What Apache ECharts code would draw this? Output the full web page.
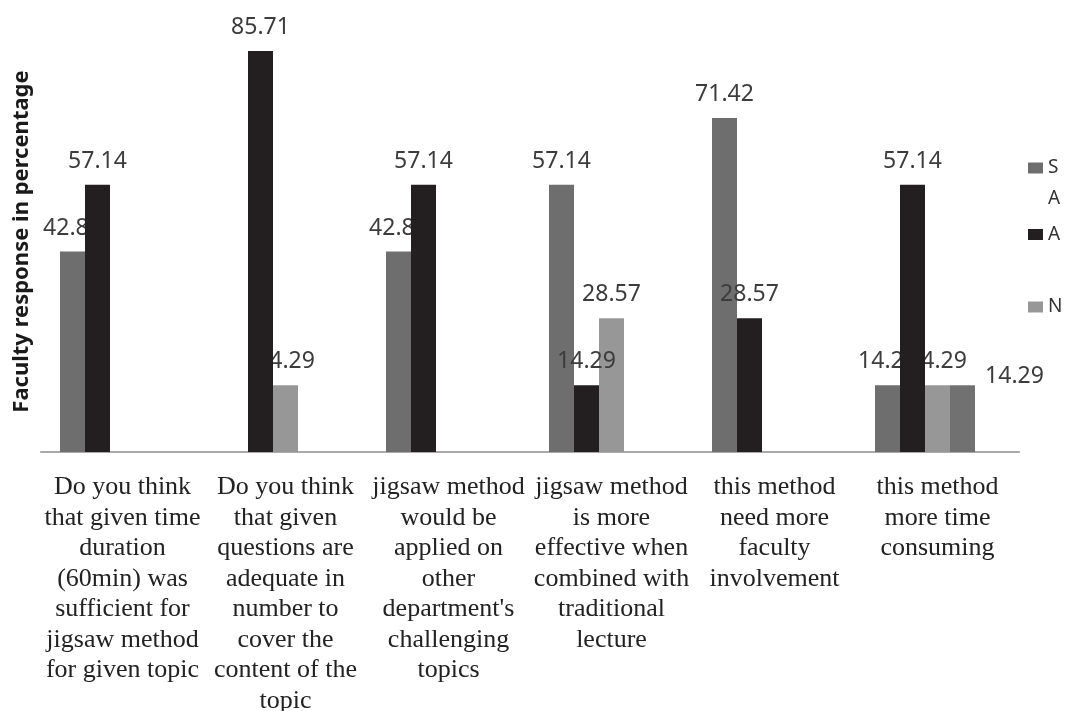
<!DOCTYPE html>
<html>
<head>
<meta charset="utf-8">
<title>Faculty response</title>
<script src="https://cdn.jsdelivr.net/npm/echarts@6/dist/echarts.min.js"></script>
<style>
  html, body { margin: 0; padding: 0; background: #ffffff; }
  #chart { width: 1066px; height: 711px; }
</style>
</head>
<body>
<div id="chart"></div>
<script>
// Survey questions (line breaks as printed under each group)
const categories = [
  "Do you think\nthat given time\nduration\n(60min) was\nsufficient for\njigsaw method\nfor given topic",
  "Do you think\nthat given\nquestions are\nadequate in\nnumber to\ncover the\ncontent of the\ntopic",
  "jigsaw method\nwould be\napplied on\nother\ndepartment's\nchallenging\ntopics",
  "jigsaw method\nis more\neffective when\ncombined with\ntraditional\nlecture",
  "this method\nneed more\nfaculty\ninvolvement",
  "this method\nmore time\nconsuming"
];

// Percentage of faculty per response option
const stronglyAgree    = [42.86, null, 42.86, 57.14, 71.42, 14.29];
const agree            = [57.14, 85.71, 57.14, 14.29, 28.57, 57.14];
const neutral          = [null, 14.29, null, 28.57, null, 14.29];
const disagree         = [null, null, null, null, null, 14.29];
const stronglyDisagree = [null, null, null, null, null, null];

const labelFont = { fontFamily: "Noto Sans", fontSize: 23, color: "#3c3c3c" };
const legendText = { fontFamily: "Noto Sans", fontSize: 19, color: "#333333" };

function barSeries(name, data, color, z, extraLabel) {
  return {
    name: name,
    type: "bar",
    data: data,
    z: z,
    barWidth: 25,
    barGap: "0%",
    itemStyle: { color: color },
    label: Object.assign({
      show: true,
      position: "top",
      distance: 12
    }, labelFont, extraLabel || {})
  };
}

function legendItem(name, top, text, lineHeight) {
  return {
    data: [name], orient: "vertical", left: 1028, top: top, padding: 0,
    itemWidth: 15, itemHeight: 11, icon: "rect",
    formatter: function () { return text; },
    textStyle: Object.assign({ lineHeight: lineHeight }, legendText)
  };
}

const chart = echarts.init(document.getElementById("chart"), null, { renderer: "canvas" });

chart.setOption({
  backgroundColor: "#ffffff",
  animation: false,
  grid: { left: 41, right: 47, top: 31, bottom: 259, outerBoundsMode: "none", containLabel: false },
  legend: [
    // the first entry wraps onto two lines, with its swatch beside the first one
    legendItem("S A", 121.5, "\nS\nA", 31),
    legendItem("A", 224.5, "A", 20),
    legendItem("N", 297, "N", 20)
  ],
  xAxis: {
    type: "category",
    data: categories,
    axisLine: { lineStyle: { color: "#a9a9a9", width: 2 } },
    axisTick: { show: false },
    axisLabel: {
      interval: 0,
      margin: 20,
      fontFamily: "Liberation Serif",
      fontSize: 26,
      lineHeight: 30.5,
      color: "#222222"
    }
  },
  yAxis: {
    type: "value",
    min: 0,
    max: 90,
    name: "Faculty response in percentage",
    nameLocation: "middle",
    nameGap: 8,
    nameTextStyle: { fontFamily: "Noto Sans", fontSize: 22, fontWeight: "bold", color: "#1a1a1a" },
    axisLine: { show: false },
    axisTick: { show: false },
    axisLabel: { show: false },
    splitLine: { show: false }
  },
  series: [
    barSeries("S A", stronglyAgree, "#6e6e6e", 2),
    barSeries("A", agree, "#231f20", 3),
    barSeries("N", neutral, "#979797", 2),
    barSeries("D", disagree, "#717171", 2, { offset: [52, 15] }),
    barSeries("SD", stronglyDisagree, "#b5b5b5", 2)
  ]
});
</script>
</body>
</html>
